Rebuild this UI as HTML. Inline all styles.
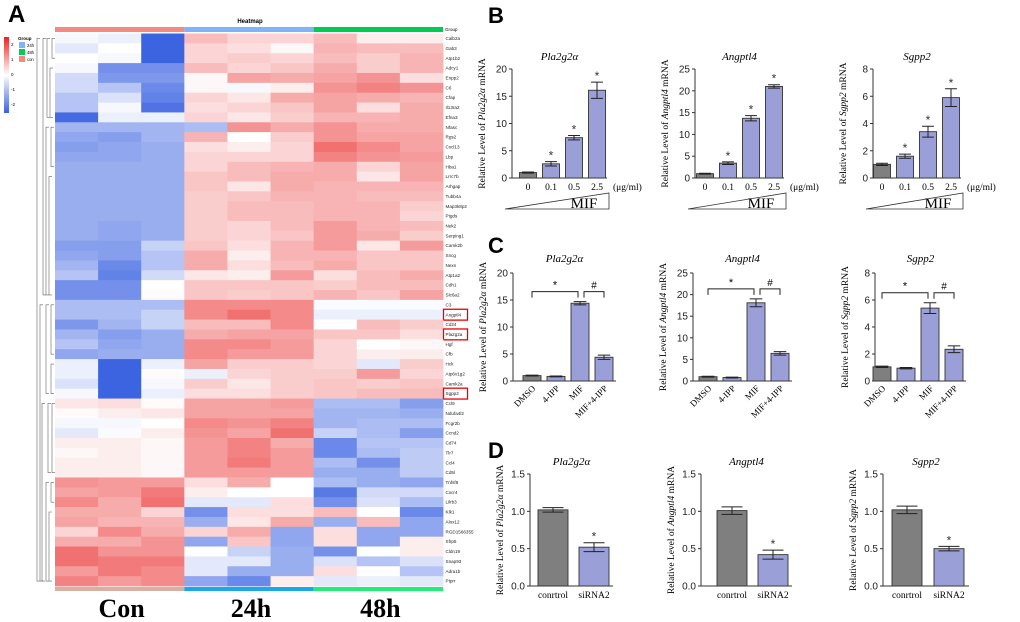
<!DOCTYPE html>
<html><head><meta charset="utf-8"><style>
body{margin:0;background:#fff;width:1020px;height:622px;overflow:hidden}
svg{display:block}
text{font-family:"Liberation Sans",sans-serif}
.serif{font-family:"Liberation Serif",serif}
</style></head><body>
<svg id="fig" width="1020" height="622" viewBox="0 0 1020 622" xmlns="http://www.w3.org/2000/svg">
<text x="8" y="22" font-size="24" font-weight="bold">A</text>
<text x="250" y="23" font-size="6" font-weight="bold" text-anchor="middle">Heatmap</text>
<text x="488" y="23" font-size="22" font-weight="bold">B</text>
<text x="488" y="253" font-size="22" font-weight="bold">C</text>
<text x="488" y="458" font-size="22" font-weight="bold">D</text>
<g id="hm"></g>
<g id="charts"></g>
</svg>
<script>
const genes=["Calb2a","Gab3","Atp1b2","Adcy1","Enpp2","C6","Cfap","Il13ra2","Efna3","Nfasc","Rgs2","Cxcl13","Lbp","Hba1","Lrrc7b","Arhgap","Tubb4a","Map3k8p2","Ptgds","Nek2","Serping1","Camk2b","Sncg","Nexn","Atp1a2","Cdh1","Slc6a2","C3","Angptl4","Cd24","Pla2g2a","Hgf","Cfb","Hck","Atp6v1g2","Camk2a","Sgpp2","Ccl9","Ndufa4l2","Fcgr2b","Ccnd2","Cd74","Tlr7","Ccl4","Cd5l","Tnfsf8","Cxcr4","Lilrb3","Klk1","Alox12","RGD1566355","Sfrp5","Cldn19","Snap93","Adra1b","Ptprr"];
const hmValues=[
[-0.1,-0.2,-2.2,0.8,0.5,0.5,0.8,0.2,0.2],[-0.3,0,-2.2,0.5,0.4,0.1,0.9,0.8,0.8],[0,-0.1,-2.2,0.5,0.6,0.5,0.8,0.6,0.9],
[-0.1,-1.5,-1.5,0.8,0.5,0.7,1,0.6,0.9],[-0.5,-1.4,-1.4,0.1,1.1,1,1.1,1.3,0.4],[-0.5,-0.8,-1.6,0.1,-0.1,0.2,1.3,1.5,1.3],
[-0.8,-0.4,-1.7,0.5,0.3,1,1.1,1,0.9],[-0.8,-0.1,-1.9,0.4,0.5,0.7,1.1,0.4,1],[-2,-0.2,-0.2,0.5,0.3,0.6,0.9,0.9,1],
[-1,-1,-1,-0.9,1.3,1,1.3,1,1],[-1.2,-1.3,-1,0.9,0,0.6,1.3,1.1,1.1],[-1.3,-1.2,-1.1,0.4,0.2,0.5,1.7,1.4,1.1],
[-1.2,-1.2,-1.1,0.5,0.5,0.5,1.5,1.3,1.2],[-1.1,-1.1,-1.1,0.5,0.8,0.9,1,0.5,1.1],[-1.1,-1.1,-1.1,0.7,0.8,1,1,0.3,1.1],
[-1.1,-1.1,-1.1,0.7,0.3,1,0.9,0.9,0.9],[-1.1,-1.1,-1.1,0.6,0.7,0.9,0.9,0.8,0.8],[-1.1,-1.1,-1.1,0.6,0.8,0.8,0.9,0.9,0.6],
[-1.1,-1.1,-1.1,0.6,0.8,0.8,0.9,0.9,0.5],[-1.1,-1.2,-1.1,0.6,0.5,0.8,1.2,0.9,0.8],[-1.1,-1.2,-1.1,0.6,0.5,0.7,1.2,1,0.6],
[-1.3,-1.3,-0.6,0.7,0.4,0.9,1.2,0.3,1.2],[-1.2,-1.3,-0.8,1,0.2,0.9,0.9,0.7,0.7],[-1,-1.6,-0.8,1,0.4,0.8,1,0.7,0.7],
[-0.8,-1.7,-0.5,0.3,0.2,1.2,0.4,0.8,1],[-1.5,-1.5,0,0.7,0.7,0.7,0.6,0.8,0.8],[-1.5,-1.5,0.05,0.7,0.6,0.7,0.9,0.7,1.1],
[-0.9,-0.9,-0.9,1.4,1.4,1.4,-0.05,-0.05,-0.05],[-0.9,-0.9,-0.6,1.4,1.7,1.4,-0.2,-0.2,-0.2],[-1.4,-1,-0.6,0.8,0.8,1.4,0,0.8,0.6],
[-1,-1.3,-1.1,1,1.1,1.1,0.7,0.7,0.4],[-0.8,-1.2,-1.1,1.4,1.4,1.2,0.5,0,0.1],[-1.2,-1.1,-1.1,1.4,1.2,1.2,0.5,0.2,0.2],
[-0.2,-2.2,-0.2,1.1,0.6,0.6,0.5,-0.3,0.6],[-0.2,-2.2,0.05,-0.2,0.5,0.6,0.6,1.2,0.5],[-0.4,-2.2,-0.1,0.6,0.3,0.6,0.7,0.6,0.7],
[-0.1,-2.2,-0.2,0.4,0.4,0.6,0.7,0.8,0.8],[0.3,0.4,0.05,1.1,1.1,1.2,-0.9,-0.9,-1.3],[0.05,0.2,0.3,1.1,1.1,1.1,-1,-1,-1.1],
[-0.1,-0.1,0,1.4,1.3,1.5,-1,-0.9,-0.9],[-0.3,-0.05,0.2,1.3,1.1,1.7,-0.6,-0.9,-1.3],[0.2,0.2,0.1,1.2,1.5,1,-1.6,-0.8,-0.8],
[0.1,0.2,0.1,1.2,1.5,1.2,-1.6,-0.9,-0.7],[0.2,0.2,0.1,1.2,1.6,1.2,-0.9,-1.5,-0.7],[0.2,0.2,0.1,1.2,1.2,1.2,-1.1,-1.1,-0.7],
[1.3,1.2,1.2,0.4,1,0,-0.9,-1.1,-1.2],[1.1,1.2,1.6,0.2,0,0,-1.8,-0.5,-0.5],[1.4,1,1.7,-0.3,-0.3,0.4,-1.5,-0.4,-0.9],
[1,1,0.5,-1.5,0.4,0.4,0.8,0,-1.6],[1.1,0.9,0.9,-1.1,0.3,1,-1.1,0.8,-1.2],[0.5,1.4,1,0.5,1,-1.2,0.4,-1.2,-1.2],
[1,1,1.3,-1.2,0.7,-1.2,0.4,-1.2,0.2],[1.7,1.3,1.3,0,-0.6,-1.1,-1.5,0,0.2],[1.7,1.6,1.6,-0.3,-0.3,-1.1,-0.4,-0.8,-0.4],
[1.2,1.6,1.4,-0.3,-1.1,-1.1,0.4,0,-0.8],[1.5,1.2,1.4,-1.2,-1.6,0.2,-0.3,-0.2,-0.3]];
const boxedGenes=["Angptl4","Pla2g2a","Sgpp2"];
const groupLabels=["Con","24h","48h"];
const legendTicks=[2,1,0,-1,-2];

// chart data
const bCats=["0","0.1","0.5","2.5"];
const cCats=["DMSO","4-IPP","MIF","MIF+4-IPP"];
const dCats=["conrtrol","siRNA2"];
const b1Vals=[1,2.6,7.4,16.1], b1Err=[0.1,0.4,0.4,1.5];
const b2Vals=[1,3.4,13.7,21], b2Err=[0.1,0.3,0.6,0.4];
const b3Vals=[1,1.6,3.4,5.9], b3Err=[0.08,0.15,0.4,0.65];
const c1Vals=[1,0.85,14.4,4.4], c1Err=[0.08,0.08,0.3,0.4];
const c2Vals=[1,0.8,18.1,6.4], c2Err=[0.1,0.1,0.9,0.4];
const c3Vals=[1.05,0.95,5.4,2.35], c3Err=[0.05,0.05,0.4,0.25];
const d1Vals=[1.02,0.52], d1Err=[0.03,0.06];
const d2Vals=[1.01,0.42], d2Err=[0.05,0.06];
const d3Vals=[1.02,0.5], d3Err=[0.05,0.03];
const ticks20=[0,5,10,15,20], ticks25=[0,5,10,15,20,25], ticks8=[0,2,4,6,8], ticks15=[0,0.5,1.0,1.5];
const bSig=[["",true,true,true],["",true,true,true],["",true,true,true]];

const NS="http://www.w3.org/2000/svg";
function mk(parent,tag,attrs,text){const e=document.createElementNS(NS,tag);for(const k in attrs)e.setAttribute(k,attrs[k]);if(text!==undefined)e.textContent=text;parent.appendChild(e);return e;}
function col(v){const t=Math.min(Math.abs(v)/2.1,1);let c;if(v>=0)c=[255+(238-255)*t,255+(80-255)*t,255+(80-255)*t];else c=[255+(60-255)*t,255+(100-255)*t,255+(225-255)*t];return `rgb(${c.map(Math.round).join(",")})`;}

// ---------- heatmap
const hm=document.getElementById('hm');
const hx0=55,hx1=443,hy0=33.5,hy1=586,cw=(hx1-hx0)/9,rh=(hy1-hy0)/genes.length;
const topCols=["#f28a80","#80b4f6","#00cc55"],botCols=["#d8b0a2","#1aa8e8","#22ee77"];
for(let g=0;g<3;g++){
 const r=mk(hm,'rect',{x:hx0+g*3*cw,y:27,width:3*cw,height:5,fill:topCols[g]});
 
 const b=mk(hm,'rect',{x:hx0+g*3*cw,y:587,width:3*cw,height:4,fill:botCols[g]});
 
 const t=mk(hm,'text',{x:hx0+(g+0.5)*3*cw+2,y:617,'font-size':26,'font-weight':'bold','text-anchor':'middle',class:'serif'},groupLabels[g]);
 
}
mk(hm,'text',{x:445,y:31,'font-size':4.5},'Group');
hmValues.forEach((row,i)=>{
 row.forEach((v,j)=>{const r=mk(hm,'rect',{x:hx0+j*cw,y:hy0+i*rh,width:cw+0.4,height:rh+0.4,fill:col(v)});
  });
 const t=mk(hm,'text',{x:445.5,y:hy0+i*rh+rh/2+1.6,'font-size':4.6,fill:'#222'},genes[i]);
 
 if(boxedGenes.includes(genes[i])){const b=mk(hm,'rect',{x:443.5,y:hy0+i*rh-0.5,width:24,height:rh+1,fill:'none',stroke:'#e00',"stroke-width":1.3});
  }
});
// dendrogram (approximate)
const dg=mk(hm,'g',{stroke:'#666','stroke-width':0.6,fill:'none'});

function yr(i){return hy0+(i+0.5)*rh;}
const segs=[[0,2,52],[3,8,50],[0,8,47],[9,26,46],[9,13,51],[14,26,49],[0,26,43],[27,32,51],[33,36,51],[27,36,46],[37,44,52],[37,44,48],[45,47,51],[48,55,49],[45,55,46],[37,55,42],[27,55,40],[0,55,37]];
segs.forEach(s=>{const a=yr(s[0]),b=yr(s[1]);mk(dg,'path',{d:`M${s[2]+3},${a}H${s[2]}V${b}H${s[2]+3}`});});
// legend
const defs=mk(hm,'defs',{});const lg=mk(defs,'linearGradient',{id:'lgr',x1:0,y1:0,x2:0,y2:1});
[["0","#ee2020"],["0.5","#ffffff"],["1","#3a60e0"]].forEach(s=>mk(lg,'stop',{offset:s[0],'stop-color':s[1]}));
const lb=mk(hm,'rect',{x:4,y:37,width:5,height:76,fill:'url(#lgr)'});

legendTicks.forEach((t,i)=>{const e=mk(hm,'text',{x:11,y:46+i*15,'font-size':4.5},String(t));});
mk(hm,'text',{x:18,y:40,'font-size':4.5,'font-weight':'bold'},'Group');
[["24h","#80b4f6"],["48h","#00cc55"],["con","#f28a80"]].forEach((g,i)=>{mk(hm,'rect',{x:19,y:42+i*7,width:6,height:6,fill:g[1]});
 const e=mk(hm,'text',{x:27,y:47+i*7,'font-size':4.2},g[0]);});

// ---------- bar charts
const ch=document.getElementById('charts');
function chart(o){
 const g=mk(ch,'g',{});
 const ymax=o.ticks[o.ticks.length-1];
 const Y=v=>o.y0-(v/ymax)*(o.y0-o.yt);
 const X=i=>o.x1+i*o.step;
 mk(g,'line',{x1:o.ax,y1:o.yt,x2:o.ax,y2:o.y0,stroke:'#333','stroke-width':1});
 mk(g,'line',{x1:o.ax,y1:o.y0,x2:o.xend,y2:o.y0,stroke:'#333','stroke-width':1});
 o.ticks.forEach(t=>{mk(g,'line',{x1:o.ax-3,x2:o.ax,y1:Y(t),y2:Y(t),stroke:'#333'});
  const e=mk(g,'text',{x:o.ax-5,y:Y(t)+3.5,'font-size':10,'text-anchor':'end',fill:'#222'},o.fmt?t.toFixed(1):String(t));
  });
 o.vals.forEach((v,i)=>{
  const cx=X(i);
  const r=mk(g,'rect',{x:cx-o.bw/2,y:Y(v),width:o.bw,height:o.y0-Y(v),fill:i===0?'#7f7f7f':'#9b9fd8',stroke:'#333','stroke-width':0.9});
  
  const e=o.err[i],cap=o.bw*0.35;
  mk(g,'path',{d:`M${cx},${Y(v-e)}V${Y(v+e)}M${cx-cap},${Y(v+e)}H${cx+cap}M${cx-cap},${Y(v-e)}H${cx+cap}`,stroke:'#222','stroke-width':1,fill:'none'});
  if(o.stars&&o.stars[i]){const s=mk(g,'text',{x:cx,y:Y(v+e)-2,'font-size':12,'text-anchor':'middle',fill:'#333'},'*');}
  let lab;
  if(o.rot){lab=mk(g,'text',{x:cx+4,y:o.y0+8,'font-size':9,'text-anchor':'end',class:'serif',transform:`rotate(-45 ${cx+4} ${o.y0+8})`},o.cats[i]);}
  else lab=mk(g,'text',{x:cx,y:o.y0+(o.labdy||12),'font-size':9.5,'text-anchor':'middle',class:'serif'},o.cats[i]);
  
 });
 if(o.brackets){const m=Math.max(...o.vals.map((v,i)=>v+o.err[i]));const by=Y(m)-10;
  const a=X(0),b=X(2)-2,c=X(2)+4,d=X(3);
  mk(g,'path',{d:`M${a},${by+6}V${by}H${b}V${by+6}M${c},${by+6}V${by}H${d}V${by+6}`,stroke:'#222','stroke-width':1,fill:'none'});
  mk(g,'text',{x:(a+b)/2,y:by-3,'font-size':11,'text-anchor':'middle'},'*');
  mk(g,'text',{x:(c+d)/2,y:by-3,'font-size':10,'text-anchor':'middle'},'#');}
 const tt=mk(g,'text',{x:(o.ax+o.xend)/2,y:o.ty,'font-size':11,'font-style':'italic','text-anchor':'middle',class:'serif'},o.title);
 
 const ylx=o.ax-27,yly=(o.y0+o.yt)/2;
 const yl=mk(g,'text',{x:ylx,y:yly,'font-size':9.5,'text-anchor':'middle',class:'serif',transform:`rotate(-90 ${ylx} ${yly})`});
 mk(yl,'tspan',{},'Relative Level of ');mk(yl,'tspan',{'font-style':'italic'},o.title);mk(yl,'tspan',{},' mRNA');
 
 if(o.mif){const u=mk(g,'text',{x:o.xend+6,y:o.y0+12,'font-size':9.5,class:'serif'},'(μg/ml)');
  const tx0=o.ax-7,tx1=o.xend+2;mk(g,'path',{d:`M${tx0},${o.y0+31}L${tx1},${o.y0+15}V${o.y0+31}Z`,fill:'#fff',stroke:'#333','stroke-width':0.8});
  const mt=mk(g,'text',{x:tx1-25,y:o.y0+30,'font-size':15,'text-anchor':'middle',class:'serif'},'MIF');}
}
const bx=[[512,528,607],[695,705,784],[873,882,961]];
[[b1Vals,b1Err,ticks20,"Pla2g2α"],[b2Vals,b2Err,ticks25,"Angptl4"],[b3Vals,b3Err,ticks8,"Sgpp2"]].forEach((d,k)=>
 chart({name:'chart-b'+(k+1),ax:bx[k][0],x1:bx[k][1],step:23,bw:17,xend:bx[k][2],y0:178,yt:69,vals:d[0],err:d[1],ticks:d[2],cats:bCats,title:d[3],ty:60,stars:bSig[k],mif:true}));
const cx=[[513,532,616],[693,708,792],[875,882,966]];
[[c1Vals,c1Err,ticks20,"Pla2g2α"],[c2Vals,c2Err,ticks25,"Angptl4"],[c3Vals,c3Err,ticks8,"Sgpp2"]].forEach((d,k)=>
 chart({name:'chart-c'+(k+1),ax:cx[k][0],x1:cx[k][1],step:24,bw:18,xend:cx[k][2],y0:381,yt:273,vals:d[0],err:d[1],ticks:d[2],cats:cCats,title:d[3],ty:262,rot:true,brackets:true}));
const dx=[[530,553,613],[701,732,792],[883,907,969]];
[[d1Vals,d1Err,"Pla2g2α"],[d2Vals,d2Err,"Angptl4"],[d3Vals,d3Err,"Sgpp2"]].forEach((d,k)=>
 chart({name:'chart-d'+(k+1),ax:dx[k][0],x1:dx[k][1],step:dx[k][1]===907?42:41,bw:30,xend:dx[k][2],y0:586,yt:474,vals:d[0],err:d[1],ticks:ticks15,fmt:true,cats:dCats,title:d[2],ty:465,stars:[false,true],labdy:12}));
</script>
</body></html>
